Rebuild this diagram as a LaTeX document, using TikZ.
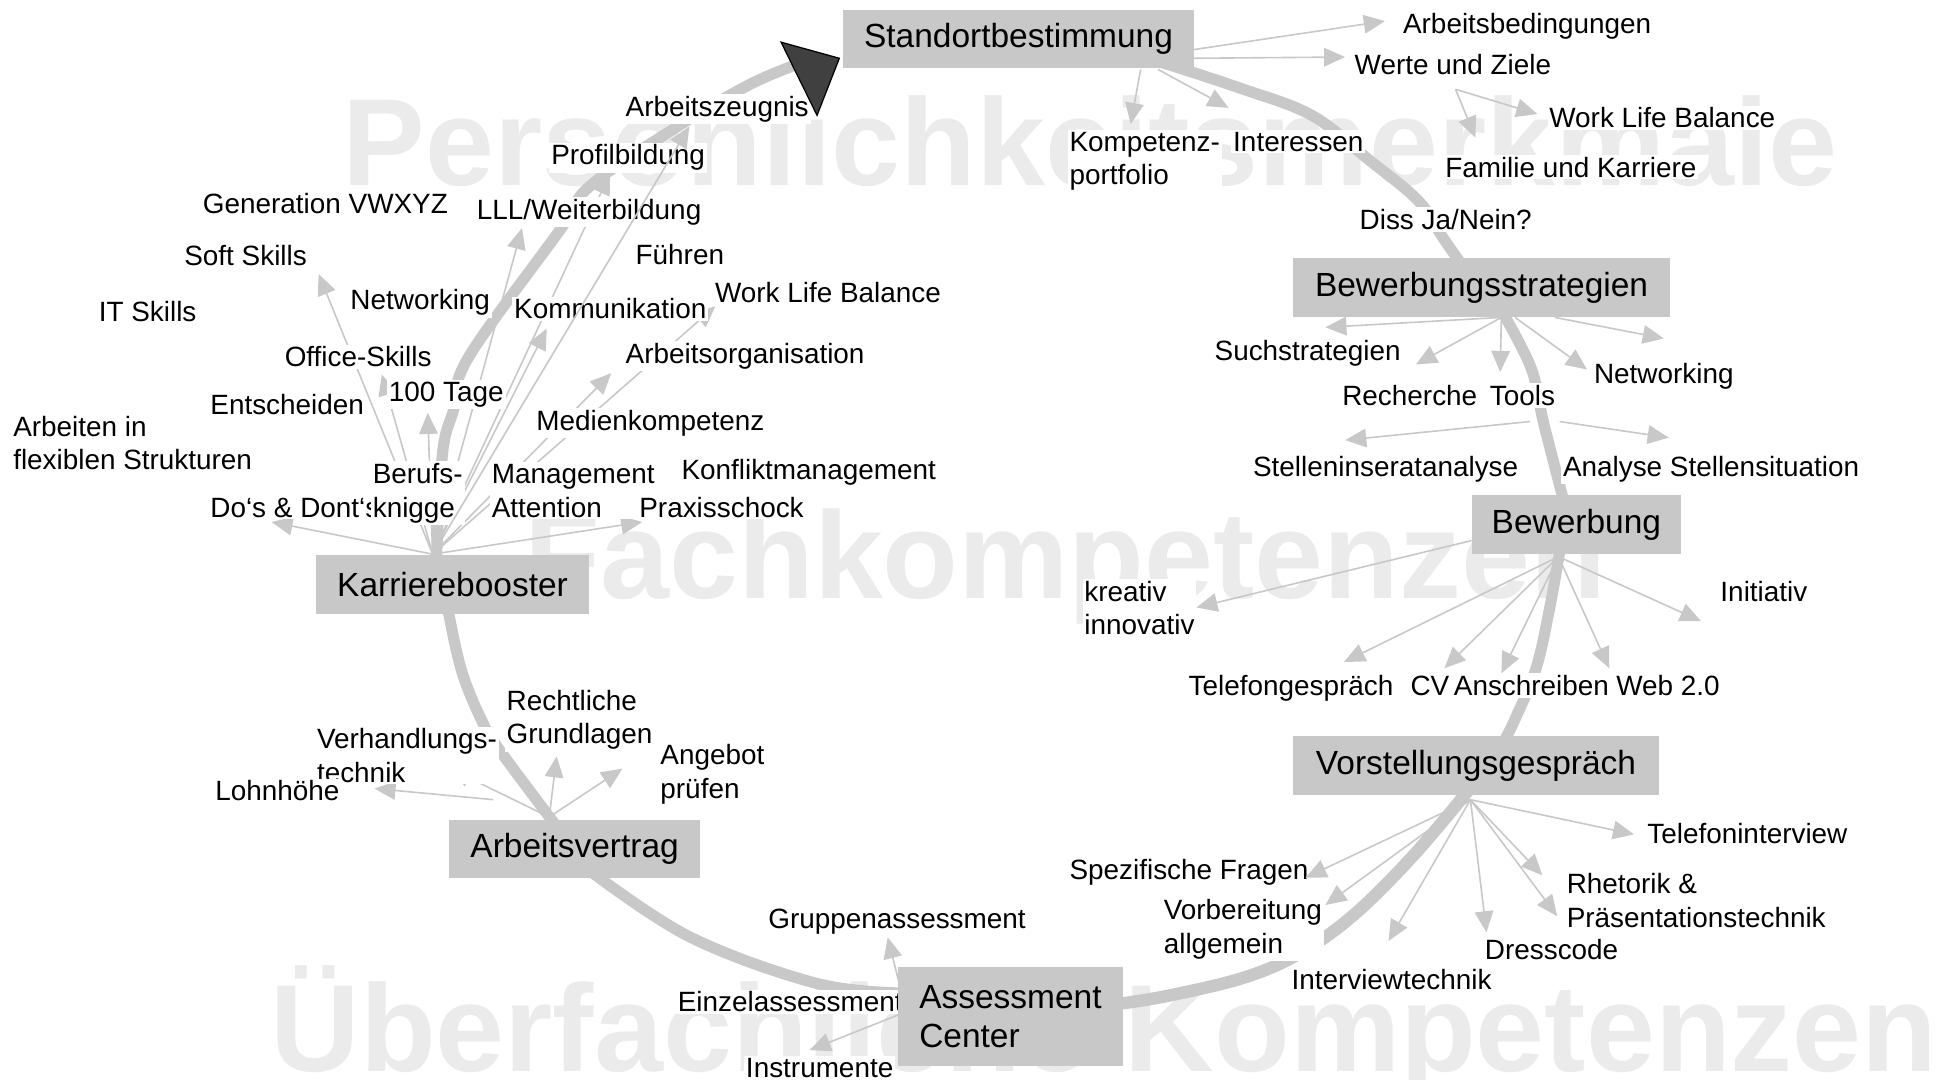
\documentclass[tikz,border=0pt]{standalone}
\usepackage{fontspec}
\setmainfont{Liberation Sans}
\usetikzlibrary{arrows.meta}
\definecolor{lg}{RGB}{200,200,200}
\definecolor{wmc}{RGB}{235,235,235}
\definecolor{dk}{RGB}{64,64,64}
\begin{document}
\begin{tikzpicture}[x=1pt,y=-1pt,
  lbl/.style={font=\fontsize{22.5}{27}\selectfont, fill=white, inner sep=1.5pt, anchor=base west, align=left},
  box/.style={fill=lg, inner sep=0pt, font=\fontsize{27}{31.5}\selectfont, align=left},
  wm/.style={font=\fontsize{100}{100}\selectfont\bfseries, text=wmc, inner sep=0pt, anchor=base west},
  arr/.style={draw=lg, line width=1.3pt, -{Triangle[length=17pt,width=15pt]}},
  cyc/.style={draw=lg, line width=9pt},
]
\useasboundingbox (0,0) rectangle (1568,871);
% watermarks
\node[wm] (wm1) at (276,150) {Persönlichkeitsmerkmale};
\node[wm] (wm2) at (423,483) {Fachkompetenzen};
\node[wm] (wm3) at (218,864) {Überfachliche Kompetenzen};
% cycle arcs
\draw[cyc] plot[smooth, tension=0.6] coordinates {(352,452) (357,365) (366,330) (378,288) (452,185) (476,150) (545,103) (605,68) (648,50)};
\draw[cyc] plot[smooth, tension=0.6] coordinates {(936,50) (1000,71) (1058,93) (1103,128) (1144,162) (1164,192) (1178,212)};
\draw[cyc] plot[smooth, tension=0.6] coordinates {(1212,252) (1235,297) (1245,341) (1261,403)};
\draw[cyc] plot[smooth, tension=0.6] coordinates {(1258,445) (1250,490) (1239,539) (1222,580) (1213,598)};
\draw[cyc, line width=10pt] plot[smooth, tension=0.6] coordinates {(1184,638) (1140,690) (1093,737) (1050,768) (1005,788) (943,803) (900,810)};
\draw[cyc] plot[smooth, tension=0.6] coordinates {(478,704) (557,756) (658,793) (728,801)};
\draw[cyc] plot[smooth, tension=0.6] coordinates {(361,490) (372,540) (388,580) (403,605) (447,664)};
% origins
\coordinate (kO) at (349,447);
\coordinate (wO) at (1174,72);
\coordinate (bsO) at (1211,256);
\coordinate (bO) at (1257,449);
\coordinate (vO) at (1186,645);
\coordinate (aO) at (443,659);
% Standortbestimmung
\draw[arr] (963,40) -- (1117,17);
\draw[arr] (963,47) -- (1085,46);
\draw[arr] (920,56) -- (912,100);
\draw[arr] (934,56) -- (991,87);
\draw[arr] (wO) -- (1240,92);
\draw[arr] (wO) -- (1190,111);
% Bewerbungsstrategien
\draw[arr] (bsO) -- (1069,264);
\draw[arr] (bsO) -- (1142,294);
\draw[arr] (bsO) -- (1210,300);
\draw[arr] (1222,256) -- (1280,298);
\draw[arr] (1254,256) -- (1342,273);
\draw[arr] (1234,340) -- (1085,355);
\draw[arr] (1258,340) -- (1346,353);
% Bewerbung
\draw[arr] (1187,436) -- (965,490);
\draw[arr] (bO) -- (1084,534);
\draw[arr] (bO) -- (1165,539);
\draw[arr] (bO) -- (1211,543);
\draw[arr] (bO) -- (1298,539);
\draw[arr] (bO) -- (1372,501);
% Assessment Center
\draw[arr] (729,808) -- (716,756);
\draw[arr] (731,816) -- (653,847);
% Arbeitsvertrag
\draw[arr] (398,645) -- (302,636);
\draw[arr] (aO) -- (363,620);
\draw[arr] (aO) -- (449,610);
\draw[arr] (aO) -- (502,620);
% Karrierebooster
\draw[arr] (kO) -- (219,421);
\draw[arr] (kO) -- (518,421);
\draw[arr] (kO) -- (257,221);
\draw[arr] (kO) -- (308,302);
\draw[arr] (kO) -- (345,333);
\draw[arr] (kO) -- (421,184);
\draw[arr] (kO) -- (492,140);
\draw[arr] (kO) -- (441,265);
\draw[arr] (kO) -- (493,301);
\draw[arr] (kO) -- (577,247);
% labels (multi-line labels are placed by the baseline of their last line)
\node[lbl] (l01) at (1130,27) {Arbeitsbedingungen};
\node[lbl] (l02) at (1091,60) {Werte und Ziele};
\node[lbl] (l03) at (1248,103) {Work Life Balance};
\node[lbl] (l04) at (1164,143) {Familie und Karriere};
\node[lbl] (l05) at (861,149) {Kompetenz-\\portfolio};
\node[lbl] (l06) at (993,122) {Interessen};
\node[lbl] (l07) at (1095,185) {Diss Ja/Nein?};
\node[lbl] (l08) at (978,291) {Suchstrategien};
\node[lbl] (l09) at (1081,327) {Recherche};
\node[lbl] (l10) at (1200,327) {Tools};
\node[lbl] (l11) at (1284,309) {Networking};
\node[lbl] (l12) at (1009,384) {Stelleninseratanalyse};
\node[lbl] (l13) at (1259,384) {Analyse Stellensituation};
\node[lbl] (l14) at (873,512) {kreativ\\innovativ};
\node[lbl] (l15) at (1386,485) {Initiativ};
\node[lbl] (l16) at (957,561) {Telefongespräch};
\node[lbl] (l17) at (1136,561) {CV};
\node[lbl] (l18) at (1171,561) {Anschreiben};
\node[lbl] (l19) at (1302,561) {Web 2.0};
\node[lbl] (l20) at (1327,680) {Telefoninterview};
\node[lbl] (l21) at (861,709) {Spezifische Fragen};
\node[lbl] (l22) at (937,769) {Vorbereitung\\allgemein};
\node[lbl] (l23) at (1040,798) {Interviewtechnik};
\node[lbl] (l24) at (1196,774) {Dresscode};
\node[lbl] (l25) at (1262,748) {Rhetorik \&\\Präsentationstechnik};
\node[lbl] (l26) at (618,749) {Gruppenassessment};
\node[lbl] (l27) at (545,816) {Einzelassessment};
\node[lbl] (l28) at (600,869) {Instrumente};
\node[lbl] (l29) at (407,600) {Rechtliche\\Grundlagen};
\node[lbl] (l30) at (254,631) {Verhandlungs-\\technik};
\node[lbl] (l31) at (172,646) {Lohnhöhe};
\node[lbl] (l32) at (531,644) {Angebot\\prüfen};
\node[lbl] (l33) at (503,94) {Arbeitszeugnis};
\node[lbl] (l34) at (443,133) {Profilbildung};
\node[lbl] (l35) at (162,172) {Generation VWXYZ};
\node[lbl] (l36) at (383,177) {LLL/Weiterbildung};
\node[lbl] (l37) at (147,214) {Soft Skills};
\node[lbl] (l38) at (511,213) {Führen};
\node[lbl] (l39) at (78,259) {IT Skills};
\node[lbl] (l40) at (281,250) {Networking};
\node[lbl] (l41) at (413,257) {Kommunikation};
\node[lbl] (l42) at (575,244) {Work Life Balance};
\node[lbl] (l43) at (228,296) {Office-Skills};
\node[lbl] (l44) at (503,293) {Arbeitsorganisation};
\node[lbl] (l45) at (168,334) {Entscheiden};
\node[lbl] (l46) at (312,324) {100 Tage};
\node[lbl] (l47) at (9,379) {Arbeiten in\\flexiblen Strukturen};
\node[lbl] (l48) at (431,347) {Medienkompetenz};
\node[lbl] (l50) at (168,417) {Do‘s \& Dont‘s};
\node[lbl] (l49) at (299,417) {Berufs-\\knigge};
\node[lbl] (l51) at (395,417) {Management\\Attention};
\node[lbl] (l52) at (548,387) {Konfliktmanagement};
\node[lbl] (l53) at (514,417) {Praxisschock};
% connectors drawn over labels
\draw[arr] (kO) -- (556,102);
\draw[arr] (vO) -- (1318,673);
\draw[arr] (vO) -- (1053,708);
\draw[arr] (vO) -- (1069,730);
\draw[arr] (vO) -- (1120,759);
\draw[arr] (vO) -- (1199,752);
\draw[arr] (vO) -- (1244,706);
\draw[arr] (vO) -- (1256,739);
% main boxes
\node[box, minimum width=283pt, minimum height=47pt] (std) at (821.5,31.5) {Standortbestimmung};
\node[box, minimum width=304pt, minimum height=48pt] (bws) at (1195,232) {Bewerbungsstrategien};
\node[box, minimum width=169pt, minimum height=48pt] (bew) at (1271.5,423) {Bewerbung};
\node[box, minimum width=295pt, minimum height=47pt] (vor) at (1190.5,617.5) {Vorstellungsgespräch};
\node[box, minimum width=182pt, minimum height=80pt] (ac) at (815,820) {Assessment\\Center};
\node[box, minimum width=203pt, minimum height=47pt] (av) at (463.5,684.5) {Arbeitsvertrag};
\node[box, minimum width=220pt, minimum height=47pt] (kb) at (365,471.5) {Karrierebooster};
% dark arrowhead of the cycle
\filldraw[fill=dk, draw=black, line width=1pt] (630,34) -- (677,47) -- (659,93) -- cycle;
\end{tikzpicture}
\end{document}
